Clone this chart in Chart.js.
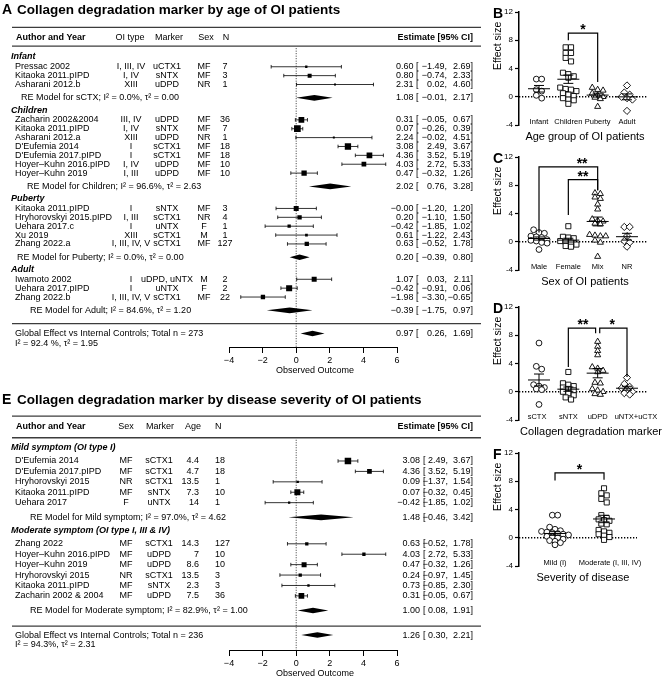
<!DOCTYPE html>
<html>
<head>
<meta charset="utf-8">
<script src="https://cdn.jsdelivr.net/npm/chart.js@4.4.1/dist/chart.umd.min.js"></script>
<style>
  html, body { margin: 0; padding: 0; background: #fff; }
  #page { position: relative; width: 666px; height: 677px; overflow: hidden; background: #fff; }
  canvas { position: absolute; }
</style>
</head>
<body>
<div id="page">
  <canvas id="forestA" width="530" height="380" style="left:0px;top:0px"></canvas>
  <canvas id="forestE" width="530" height="292" style="left:0px;top:385px"></canvas>
  <canvas id="dotB" width="177" height="147" style="left:489px;top:0px"></canvas>
  <canvas id="dotC" width="177" height="147" style="left:489px;top:145px"></canvas>
  <canvas id="dotD" width="177" height="147" style="left:489px;top:295px"></canvas>
  <canvas id="dotF" width="177" height="147" style="left:489px;top:441px"></canvas>
</div>
<script>
// ── Panel A: forest plot by age group ──
const groupsA = ['Infant', 'Children', 'Puberty', 'Adult'];
const groupSizeA = [3, 7, 5, 3];
const studyA = ['Pressac 2002', 'Kitaoka 2011.pIPD', 'Asharani 2012.b',
  'Zacharin 2002&2004', 'Kitaoka 2011.pIPD', 'Asharani 2012.a', "D'Eufemia 2014", "D'Eufemia 2017.pIPD", 'Hoyer\u2013Kuhn 2016.pIPD', 'Hoyer\u2013Kuhn 2019',
  'Kitaoka 2011.pIPD', 'Hryhorovskyi 2015.pIPD', 'Uehara 2017.c', 'Xu 2019', 'Zhang 2022.a',
  'Iwamoto 2002', 'Uehara 2017.pIPD', 'Zhang 2022.b'];
const oiTypeA = ['I, III, IV', 'I, IV', 'XIII', 'III, IV', 'I, IV', 'XIII', 'I', 'I', 'I, IV', 'I, III',
  'I', 'I, III', 'I', 'XIII', 'I, III, IV, V', 'I', 'I', 'I, III, IV, V'];
const markerA = ['uCTX1', 'sNTX', 'uDPD', 'uDPD', 'sNTX', 'uDPD', 'sCTX1', 'sCTX1', 'uDPD', 'uDPD',
  'sNTX', 'sCTX1', 'uNTX', 'sCTX1', 'sCTX1', 'uDPD, uNTX', 'uNTX', 'sCTX1'];
const sexA = ['MF', 'MF', 'NR', 'MF', 'MF', 'NR', 'MF', 'MF', 'MF', 'MF', 'MF', 'NR', 'F', 'M', 'MF', 'M', 'F', 'MF'];
const nA = [7, 3, 1, 36, 7, 1, 18, 18, 10, 10, 3, 4, 1, 1, 127, 2, 2, 22];
const estA = [0.60, 0.80, 2.31, 0.31, 0.07, 2.24, 3.08, 4.36, 4.03, 0.47, -0.00, 0.20, -0.42, 0.61, 0.63, 1.07, -0.42, -1.98];
const loA = [-1.49, -0.74, 0.02, -0.05, -0.26, -0.02, 2.49, 3.52, 2.72, -0.32, -1.20, -1.10, -1.85, -1.22, -0.52, 0.03, -0.91, -3.30];
const hiA = [2.69, 2.33, 4.60, 0.67, 0.39, 4.51, 3.67, 5.19, 5.33, 1.26, 1.20, 1.50, 1.02, 2.43, 1.78, 2.11, 0.06, -0.65];
const weightA = [1.4, 4.1, 1.0, 8.4, 11.5, 1.0, 10.2, 8.4, 5.7, 7.2, 6.4, 4.8, 2.8, 1.9, 4.8, 6.4, 9.3, 4.8];
const reNameA = ['sCTX', 'Children', 'Puberty', 'Adult'];
const reI2A = [0.0, 96.6, 0.0, 84.6];
const reTau2A = [0.00, 2.63, 0.00, 1.20];
const reEstA = [1.08, 2.02, 0.20, -0.39];
const reLoA = [-0.01, 0.76, -0.39, -1.75];
const reHiA = [2.17, 3.28, 0.80, 0.97];
const globalA = [0.97, 0.26, 1.69];       // estimate, lower, upper
const globalStatA = [273, 92.4, 1.95];    // total n, I2, tau2

// ── Panel E: forest plot by disease severity ──
const groupsE = ['Mild symptom (OI type I)', 'Moderate symptom (OI type I, III & IV)'];
const groupSizeE = [5, 6];
const studyE = ["D'Eufemia 2014", "D'Eufemia 2017.pIPD", 'Hryhorovskyi 2015', 'Kitaoka 2011.pIPD', 'Uehara 2017',
  'Zhang 2022', 'Hoyer\u2013Kuhn 2016.pIPD', 'Hoyer\u2013Kuhn 2019', 'Hryhorovskyi 2015', 'Kitaoka 2011.pIPD', 'Zacharin 2002 & 2004'];
const sexE = ['MF', 'MF', 'NR', 'MF', 'F', 'MF', 'MF', 'MF', 'NR', 'MF', 'MF'];
const markerE = ['sCTX1', 'sCTX1', 'sCTX1', 'sNTX', 'uNTX', 'sCTX1', 'uDPD', 'uDPD', 'sCTX1', 'sNTX', 'uDPD'];
const ageE = [4.4, 4.7, 13.5, 7.3, 14, 14.3, 7, 8.6, 13.5, 2.3, 7.5];
const nE = [18, 18, 1, 10, 1, 127, 10, 10, 3, 3, 36];
const estE = [3.08, 4.36, 0.09, 0.07, -0.42, 0.63, 4.03, 0.47, 0.24, 0.73, 0.31];
const loE = [2.49, 3.52, -1.37, -0.32, -1.85, -0.52, 2.72, -0.32, -0.97, -0.85, -0.05];
const hiE = [3.67, 5.19, 1.54, 0.45, 1.02, 1.78, 5.33, 1.26, 1.45, 2.30, 0.67];
const weightE = [20.4, 10.7, 2.6, 17.4, 2.6, 5.3, 5.3, 12.1, 5.3, 2.6, 15.7];
const reNameE = ['Mild symptom', 'Moderate symptom'];
const reI2E = [97.0, 82.9];
const reTau2E = [4.62, 1.00];
const reEstE = [1.48, 1.00];
const reLoE = [-0.46, 0.08];
const reHiE = [3.42, 1.91];
const globalE = [1.26, 0.30, 2.21];
const globalStatE = [236, 94.3, 2.31];

const forestTicks = [-4, -2, 0, 2, 4, 6];

// ── Panels B, C, D, F: effect size per study, grouped ──
const effectTicks = [-4, 0, 4, 8, 12];
const catsB = ['Infant', 'Children', 'Puberty', 'Adult'];
const infantB = [2.5, 2.5, 1.0, 0.8, 0.2, -0.2];
const childrenB = [7.0, 7.0, 6.2, 6.2, 5.5, 5.0, 3.4, 3.2, 2.9, 2.7, 1.3, 1.1, 1.0, 0.8, 0.5, 0.3, 0.1, -0.2, -0.4, -0.5, -1.0];
const pubertyB = [1.3, 1.0, 0.9, 0.5, 0.2, 0.0, -0.1, -0.3, -1.4];
const adultB = [1.6, 0.6, 0.3, 0.0, -0.2, -0.4, -2.0];

const catsC = ['Male', 'Female', 'Mix', 'NR'];
const maleC = [1.7, 1.3, 1.2, 0.8, 0.7, 0.6, 0.3, 0.2, 0.1, -0.1, -0.2, -1.1];
const femaleC = [2.2, 0.7, 0.6, 0.5, 0.1, 0.0, -0.1, -0.4, -0.6, -0.7];
const mixC = [6.9, 6.8, 6.3, 6.1, 5.3, 4.6, 3.2, 3.0, 2.9, 2.6, 2.5, 1.0, 0.9, 0.8, 0.8, 0.2, -0.1, -2.1];
const nrC = [2.1, 2.1, 0.8, 0.1, -0.1, -0.7];

const catsD = ['sCTX', 'sNTX', 'uDPD', 'uNTX+uCTX'];
const sctxD = [6.9, 3.6, 3.2, 1.0, 0.8, 0.6, 0.4, 0.3, -1.8];
const sntxD = [2.8, 1.2, 1.0, 0.8, 0.6, 0.4, 0.2, 0.0, -0.2, -0.5, -0.8, -1.1];
const udpdD = [7.1, 6.4, 5.8, 5.2, 3.5, 3.3, 3.0, 2.8, 1.3, 1.2, 0.4, 0.2, 0.0, -0.3, -0.4];
const untxD = [2.0, 1.1, 0.7, 0.5, 0.3, 0.0, -0.2, -0.4];

const catsF = ['Mild (I)', 'Moderate (I, III, IV)'];
const mildF = [3.2, 3.2, 1.5, 1.2, 1.0, 0.9, 0.8, 0.7, 0.6, 0.5, 0.4, 0.2, 0.1, 0.0, -0.2, -0.4, -0.5, -0.7, -1.0];
const moderateF = [7.0, 6.3, 6.0, 5.5, 5.0, 3.2, 2.8, 2.6, 2.5, 2.4, 2.0, 1.9, 1.1, 0.9, 0.7, 0.5, 0.3, 0.1, -0.3];

// significance brackets: [from, to, bar y, left leg end, right leg end, label, label x]
const sigB = [[1, 2, 9.0, 8.0, 2.1, '*', 1.5]];
const sigC = [[0, 2, 10.6, 1.3, 7.3, '**', 1.47], [1, 2, 8.8, 3.8, 7.3, '**', 1.5]];
const sigD = [[1, 1.93, 9.0, 3.5, 8.3, '**', 1.5], [2.07, 3, 9.0, 8.3, 2.1, '*', 2.5]];
const sigF = [[0, 1, 9.2, 8.1, 8.2, '*', 0.5]];

// ────────────────────────────────────────────
const FONT = '"Liberation Sans", Arial, Helvetica, sans-serif';
Chart.defaults.font.family = FONT;
Chart.defaults.color = '#000';
Chart.defaults.animation = false;

const minus = v => (v < 0 || Object.is(v, -0) ? '\u2212' : '');
const fmt = v => minus(v) + Math.abs(v).toFixed(2);

function seg(ctx, x1, y1, x2, y2) {
  ctx.beginPath(); ctx.moveTo(x1, y1); ctx.lineTo(x2, y2); ctx.stroke();
}
function txt(ctx, s, x, y, align, font) {
  ctx.font = font; ctx.textAlign = align; ctx.textBaseline = 'middle';
  ctx.fillText(s, x, y);
}

// metafor-style row positions (in row units)
function layoutRows(sizes, g) {
  const rows = { top: g.top, headRule: g.rule1, groupHead: [], study: [], re: [] };
  let r = g.rule1 + g.head;
  sizes.forEach((n, k) => {
    if (k) r += g.next;
    rows.groupHead.push(r);
    r += g.first;
    for (let i = 0; i < n; i++) { rows.study.push(r); if (i < n - 1) r += 1; }
    r += g.re;
    rows.re.push(r);
  });
  rows.rule = r + g.toRule;
  rows.global = rows.rule + g.glob;
  rows.global2 = rows.global + g.line2;
  return rows;
}

function forestDecor(P, rows) {
  const reg = `9px ${FONT}`, bold = `bold 9px ${FONT}`, boldIt = `italic bold 9px ${FONT}`;
  return {
    id: 'forestDecor',
    beforeDatasetsDraw(chart) {
      const { ctx } = chart, xs = chart.scales.x, ys = chart.scales.y;
      const Y = r => ys.getPixelForValue(r), X = v => xs.getPixelForValue(v);
      ctx.save();
      ctx.strokeStyle = '#3c3c3c'; ctx.lineWidth = 1.3;
      [rows.top, rows.headRule, rows.rule].forEach(r => seg(ctx, 12, Y(r), 481, Y(r)));
      ctx.strokeStyle = '#000'; ctx.lineWidth = 0.8; ctx.setLineDash([1, 1.5]);
      seg(ctx, X(0), Y(rows.headRule) + 2, X(0), chart.chartArea.bottom);
      ctx.setLineDash([]);
      P.est.forEach((e, i) => {
        const py = Y(rows.study[i]), a = X(P.lo[i]), b = X(P.hi[i]);
        seg(ctx, a, py, b, py); seg(ctx, a, py - 1.8, a, py + 1.8); seg(ctx, b, py - 1.8, b, py + 1.8);
      });
      ctx.restore();
    },
    afterDatasetsDraw(chart) {
      const { ctx } = chart, xs = chart.scales.x, ys = chart.scales.y;
      const Y = r => ys.getPixelForValue(r), X = v => xs.getPixelForValue(v);
      ctx.save();
      ctx.fillStyle = '#000';
      const diamond = (e, lo, hi, r) => {
        const py = Y(r);
        ctx.beginPath(); ctx.moveTo(X(lo), py); ctx.lineTo(X(e), py - 2.8);
        ctx.lineTo(X(hi), py); ctx.lineTo(X(e), py + 2.8); ctx.closePath(); ctx.fill();
      };
      const estTxt = (e, lo, hi, py) => {
        txt(ctx, fmt(e), P.estR, py, 'right', reg);
        txt(ctx, '[', P.brkL, py, 'left', reg);
        txt(ctx, fmt(lo) + ',', P.loR, py, 'right', reg);
        txt(ctx, fmt(hi) + ']', P.hiR, py, 'right', reg);
      };
      // title
      const ty = P.titleY;
      txt(ctx, P.letter, 2, ty, 'left', `bold 14px ${FONT}`);
      txt(ctx, P.title, 17, ty, 'left', `bold 13.5px ${FONT}`);
      // column headers
      const hy = Y(0);
      txt(ctx, 'Author and Year', 16, hy, 'left', bold);
      P.heads.forEach(([s, x, al]) => txt(ctx, s, x, hy, al, reg));
      txt(ctx, 'Estimate [95% CI]', P.hiR, hy, 'right', bold);
      // groups
      P.groups.forEach((g, k) => txt(ctx, g, 11, Y(rows.groupHead[k]), 'left', boldIt));
      // studies
      P.study.forEach((s, i) => {
        const py = Y(rows.study[i]);
        txt(ctx, s, 15, py, 'left', reg);
        P.cols.forEach(([vals, x, al]) => txt(ctx, String(vals[i]), x, py, al, reg));
        estTxt(P.est[i], P.lo[i], P.hi[i], py);
      });
      // subgroup models
      P.reName.forEach((nm, k) => {
        const py = Y(rows.re[k]);
        diamond(P.reEst[k], P.reLo[k], P.reHi[k], rows.re[k]);
        txt(ctx, `RE Model for ${nm}; I\u00B2 = ${P.reI2[k].toFixed(1)}%, \u03C4\u00B2 = ${P.reTau2[k].toFixed(2)}`, P.reX[k], py, 'left', reg);
        estTxt(P.reEst[k], P.reLo[k], P.reHi[k], py);
      });
      // global model
      diamond(P.glob[0], P.glob[1], P.glob[2], rows.global);
      txt(ctx, `Global Effect vs Internal Controls; Total n = ${P.globStat[0]}`, 15, Y(rows.global), 'left', reg);
      txt(ctx, `I\u00B2 = ${P.globStat[1].toFixed(1)}${P.globSep}%, \u03C4\u00B2 = ${P.globStat[2].toFixed(2)}`, 15, Y(rows.global2), 'left', reg);
      estTxt(P.glob[0], P.glob[1], P.glob[2], Y(rows.global));
      // axis title
      txt(ctx, 'Observed Outcome', (chart.chartArea.left + chart.chartArea.right) / 2 + 2, chart.chartArea.bottom + 24, 'center', reg);
      ctx.restore();
    }
  };
}

function makeForest(id, P) {
  const cvs = document.getElementById(id);
  const rows = layoutRows(P.sizes, P.gaps);
  const axisH = 20;
  const yMin = -P.headY / P.unit, yMax = yMin + P.axisY / P.unit;
  const wMax = Math.max(...P.w);
  return new Chart(cvs, {
    type: 'scatter',
    data: {
      datasets: [{
        data: P.est.map((e, i) => ({ x: e, y: rows.study[i] })),
        pointStyle: 'rect',
        pointRadius: P.w.map(w => P.maxSide * Math.sqrt(w / wMax) / Math.SQRT2),
        pointBackgroundColor: '#000',
        pointBorderWidth: 0
      }]
    },
    options: {
      responsive: false,
      animation: false,
      layout: { padding: { left: 229, right: cvs.width - 397, top: 0, bottom: cvs.height - axisH - P.axisY } },
      plugins: { legend: { display: false }, tooltip: { enabled: false } },
      scales: {
        x: {
          type: 'linear', min: -4, max: 6, bounds: 'data',
          afterBuildTicks: s => { s.ticks = forestTicks.map(v => ({ value: v })); },
          ticks: { padding: 2, font: { size: 9 }, color: '#000', callback: v => minus(v) + Math.abs(v) },
          grid: { drawOnChartArea: false, tickLength: 6, tickColor: '#000', tickWidth: 1 },
          border: { color: '#000', width: 1 },
          afterFit: s => { s.height = axisH; }
        },
        y: { type: 'linear', display: false, reverse: true, min: yMin, max: yMax, bounds: 'data' }
      }
    },
    plugins: [forestDecor(P, rows)]
  });
}

makeForest('forestA', {
  letter: 'A', title: 'Collagen degradation marker by age of OI patients', titleY: 10,
  unit: 9, headY: 33, axisY: 347,
  gaps: { top: -1.11, rule1: 1.0, head: 1.22, first: 1.1, re: 1.5, next: 1.38, toRule: 1.5, glob: 1.1, line2: 1.15 },
  groups: groupsA, sizes: groupSizeA, study: studyA, est: estA, lo: loA, hi: hiA, w: weightA, maxSide: 6.7,
  cols: [[oiTypeA, 131, 'center'], [markerA, 167, 'center'], [sexA, 204, 'center'], [nA, 225, 'center']],
  heads: [['OI type', 130, 'center'], ['Marker', 169, 'center'], ['Sex', 206, 'center'], ['N', 226, 'center']],
  reName: reNameA, reI2: reI2A, reTau2: reTau2A, reEst: reEstA, reLo: reLoA, reHi: reHiA, reX: [21, 27, 17, 30],
  glob: globalA, globStat: globalStatA, globSep: ' ',
  estR: 413.5, brkL: 416, loR: 447, hiR: 473
});

makeForest('forestE', {
  letter: 'E', title: 'Collagen degradation marker by disease severity of OI patients', titleY: 15,
  unit: 10.6, headY: 38, axisY: 265,
  gaps: { top: -1.04, rule1: 1.04, head: 0.94, first: 1.29, re: 1.41, next: 1.25, toRule: 1.5, glob: 0.85, line2: 0.95 },
  groups: groupsE, sizes: groupSizeE, study: studyE, est: estE, lo: loE, hi: hiE, w: weightE, maxSide: 6.5,
  cols: [[sexE, 126, 'center'], [markerE, 159, 'center'], [ageE, 199, 'right'], [nE, 215, 'left']],
  heads: [['Sex', 126, 'center'], ['Marker', 160, 'center'], ['Age', 193, 'center'], ['N', 215, 'left']],
  reName: reNameE, reI2: reI2E, reTau2: reTau2E, reEst: reEstE, reLo: reLoE, reHi: reHiE, reX: [30, 30],
  glob: globalE, globStat: globalStatE, globSep: '',
  estR: 420, brkL: 423, loR: 448, hiR: 473
});

// ────────────────────────────────────────────
// dot plots with mean ± SEM
// ────────────────────────────────────────────
const markR = { circle: 2.9, rect: 3.6, triangle: 3.5, rectRot: 3.6 };
const styles = ['circle', 'rect', 'triangle', 'rectRot'];

function dotDecor(cats, groups, sig, o) {
  return {
    id: 'dotDecor',
    beforeDatasetsDraw(chart) {
      const { ctx, chartArea: a } = chart, py = chart.scales.y.getPixelForValue(0);
      ctx.save();
      ctx.strokeStyle = '#000'; ctx.lineWidth = 1.4; ctx.setLineDash([1.3, 1.7]);
      seg(ctx, a.left, py, a.right, py);
      ctx.restore();
    },
    afterDatasetsDraw(chart) {
      const { ctx } = chart, xs = chart.scales.x, ys = chart.scales.y;
      ctx.save();
      ctx.strokeStyle = '#000'; ctx.fillStyle = '#000'; ctx.lineWidth = 1;
      groups.forEach((vals, k) => {
        const n = vals.length, m = vals.reduce((s, v) => s + v, 0) / n;
        const sd = Math.sqrt(vals.reduce((s, v) => s + (v - m) ** 2, 0) / (n - 1));
        const se = sd / Math.sqrt(n);
        const cx = xs.getPixelForValue(k), pm = ys.getPixelForValue(m);
        const p1 = ys.getPixelForValue(m + se), p2 = ys.getPixelForValue(m - se);
        seg(ctx, cx - 11, pm, cx + 11, pm);
        seg(ctx, cx, p1, cx, p2);
        seg(ctx, cx - 5, p1, cx + 5, p1);
        seg(ctx, cx - 5, p2, cx + 5, p2);
      });
      ctx.lineWidth = 1.2;
      sig.forEach(([x1, x2, yb, e1, e2, label, lx]) => {
        const a = xs.getPixelForValue(x1), b = xs.getPixelForValue(x2), pb = ys.getPixelForValue(yb);
        ctx.beginPath();
        ctx.moveTo(a, ys.getPixelForValue(e1)); ctx.lineTo(a, pb);
        ctx.lineTo(b, pb); ctx.lineTo(b, ys.getPixelForValue(e2));
        ctx.stroke();
        ctx.font = `bold 14px ${FONT}`; ctx.textAlign = 'center'; ctx.textBaseline = 'alphabetic';
        ctx.fillText(label, xs.getPixelForValue(lx), pb + 1);
      });
      ctx.restore();
    },
    afterDraw(chart) {
      const { ctx, chartArea: a } = chart, xs = chart.scales.x, ys = chart.scales.y;
      ctx.save();
      ctx.fillStyle = '#000';
      // category labels sit just above the -4 end of the axis
      cats.forEach((c, i) => txt(ctx, c, xs.getPixelForValue(i) + (o.labelShift[i] || 0), a.bottom - 3, 'center', `7.5px ${FONT}`));
      txt(ctx, o.letter, 4, a.top + 2, 'left', `bold 14px ${FONT}`);
      ctx.translate(9, ys.getPixelForValue(7.2));
      ctx.rotate(-Math.PI / 2);
      txt(ctx, 'Effect size', 0, 0, 'center', `10.5px ${FONT}`);
      ctx.setTransform(1, 0, 0, 1, 0, 0);
      txt(ctx, o.title, o.titleX, a.bottom + 12, 'center', `11px ${FONT}`);
      ctx.restore();
    }
  };
}

// Prism-like scatter: points of similar height share a row, spread symmetrically
function swarm(chart, dx, dy) {
  const xs = chart.scales.x, ys = chart.scales.y;
  chart.data.datasets.forEach((ds, k) => {
    const cx = xs.getPixelForValue(k);
    const next = ds.data.map(p => ({ x: p.x, y: p.y }));
    const items = ds.data.map((p, i) => ({ i, py: ys.getPixelForValue(p.y) })).sort((a, b) => a.py - b.py);
    let row = [];
    const flush = () => {
      row.forEach((it, j) => { next[it.i].x = xs.getValueForPixel(cx + (j - (row.length - 1) / 2) * dx); });
      row = [];
    };
    items.forEach(it => {
      if (row.length && it.py - row[0].py > dy) flush();
      row.push(it);
    });
    flush();
    ds.data = next;
  });
  chart.update('none');
}

function makeDot(id, cats, groups, sig, o) {
  const cvs = document.getElementById(id);
  const ch = new Chart(cvs, {
    type: 'scatter',
    data: {
      datasets: groups.map((vals, k) => ({
        data: vals.map(v => ({ x: k, y: v })),
        pointStyle: styles[k],
        pointRadius: markR[styles[k]],
        pointBackgroundColor: '#fff',
        pointBorderColor: '#000',
        pointBorderWidth: 0.9
      }))
    },
    options: {
      responsive: false,
      animation: false,
      layout: { padding: { left: 0, right: o.padR, top: 12, bottom: 20 } },
      plugins: { legend: { display: false }, tooltip: { enabled: false } },
      scales: {
        x: {
          type: 'linear', min: o.xMin, max: o.xMax, bounds: 'data',
          afterBuildTicks: s => { s.ticks = cats.map((c, i) => ({ value: i })); },
          ticks: { display: false },
          grid: { display: false, drawTicks: false },
          border: { display: false },
          afterFit: s => { s.height = 2; }
        },
        y: {
          type: 'linear', min: -4, max: 12, bounds: 'data',
          afterBuildTicks: s => { s.ticks = effectTicks.map(v => ({ value: v })); },
          ticks: { font: { size: 8 }, color: '#000', padding: 2 },
          grid: { drawOnChartArea: false, tickLength: 4, tickColor: '#000', tickWidth: 1.2 },
          border: { color: '#000', width: 1.5 },
          afterFit: s => { s.width = 30; }
        }
      }
    },
    plugins: [dotDecor(cats, groups, sig, o)]
  });
  swarm(ch, 5.4, 4.2);
  return ch;
}

makeDot('dotB', catsB, [infantB, childrenB, pubertyB, adultB], sigB,
  { letter: 'B', title: 'Age group of OI patients', titleX: 96, xMin: -0.682, xMax: 3.716, padR: 18, labelShift: [] });
makeDot('dotC', catsC, [maleC, femaleC, mixC, nrC], sigC,
  { letter: 'C', title: 'Sex of OI patients', titleX: 96, xMin: -0.682, xMax: 3.716, padR: 18, labelShift: [] });
makeDot('dotD', catsD, [sctxD, sntxD, udpdD, untxD], sigD,
  { letter: 'D', title: 'Collagen degradation marker', titleX: 102, xMin: -0.682, xMax: 3.716, padR: 18, labelShift: [-2, 0, 0, 9] });
makeDot('dotF', catsF, [mildF, moderateF], sigF,
  { letter: 'F', title: 'Severity of disease', titleX: 94, xMin: -0.735, xMax: 1.673, padR: 29, labelShift: [0, 6] });
</script>
</body>
</html>
